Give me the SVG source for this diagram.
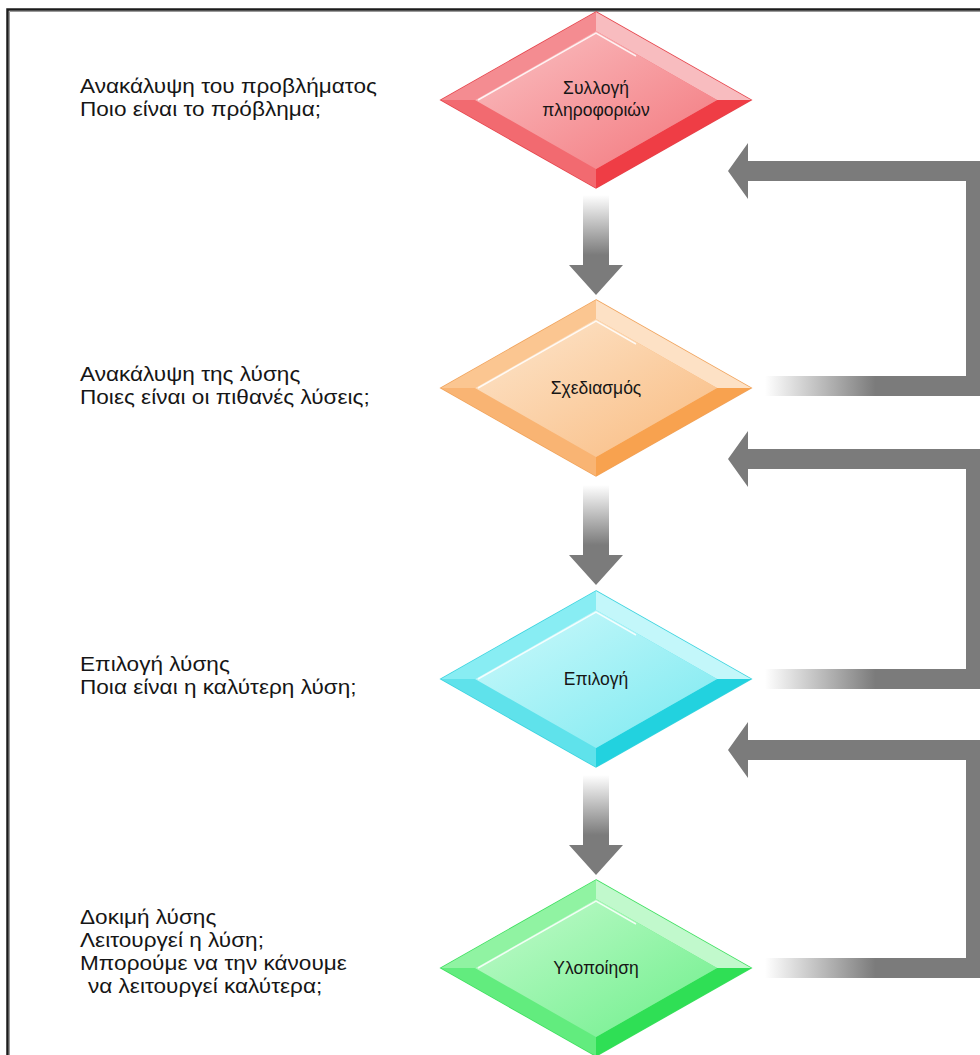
<svg xmlns="http://www.w3.org/2000/svg" xmlns:xlink="http://www.w3.org/1999/xlink" width="980" height="1055" viewBox="0 0 980 1055">
  <defs>
    <style>
      .note { font-family: "Liberation Sans", Arial, sans-serif; font-size: 20px; fill: #161616; }
      .label { font-family: "Liberation Sans", Arial, sans-serif; font-size: 17.5px; fill: #161616; text-anchor: middle; }
      .gray { fill: #7b7b7b; }
      .hl { fill: none; stroke: #ffffff; stroke-width: 1.5; stroke-opacity: 0.85; }
    </style>
    <!-- bevelled diamond facets, local coordinates around the centre -->
    <polygon id="f-tl" points="-155,0 0,-88 0,-69 -121,0"/>
    <polygon id="f-tr" points="0,-88 155,0 121,0 0,-69"/>
    <polygon id="f-br" points="155,0 0,88 0,69 121,0"/>
    <polygon id="f-bl" points="0,88 -155,0 -121,0 0,69"/>
    <polygon id="f-in" points="0,-69 121,0 0,69 -121,0"/>
    <polygon id="f-out" points="0,-88 155,0 0,88 -155,0"/>
    <linearGradient id="g-red" x1="0" y1="0" x2="1" y2="1">
      <stop offset="0" stop-color="#fac1c3"/><stop offset="1" stop-color="#f3767c"/>
    </linearGradient>
    <linearGradient id="g-orange" x1="0" y1="0" x2="1" y2="1">
      <stop offset="0" stop-color="#fde6cd"/><stop offset="1" stop-color="#f9bb80"/>
    </linearGradient>
    <linearGradient id="g-cyan" x1="0" y1="0" x2="1" y2="1">
      <stop offset="0" stop-color="#cdf9fb"/><stop offset="1" stop-color="#7ae9f0"/>
    </linearGradient>
    <linearGradient id="g-green" x1="0" y1="0" x2="1" y2="1">
      <stop offset="0" stop-color="#c2facc"/><stop offset="1" stop-color="#6eef8b"/>
    </linearGradient>
    <!-- shaft fade for the down arrows -->
    <linearGradient id="g-down" x1="0" y1="0" x2="0" y2="1">
      <stop offset="0" stop-color="#ffffff"/><stop offset="0.6" stop-color="#7b7b7b"/><stop offset="1" stop-color="#7b7b7b"/>
    </linearGradient>
    <!-- fade for the return bars leaving each step -->
    <linearGradient id="g-back" x1="0" y1="0" x2="1" y2="0">
      <stop offset="0" stop-color="#ffffff"/><stop offset="0.5" stop-color="#7b7b7b"/><stop offset="1" stop-color="#7b7b7b"/>
    </linearGradient>
  </defs>

  <rect width="980" height="1055" fill="#ffffff"/>
  <!-- frame -->
  <path d="M7.5,1055 V9.5 H980" fill="none" stroke="#1c1c1c" stroke-width="2.5"/>
  <path d="M9.5,1055 V11.5 H980" fill="none" stroke="#9a9a9a" stroke-width="1"/>

  <!-- connectors -->
  <g id="connectors">
    <!-- down arrows between steps -->
    <path d="M583,195 H609 V265 H623 L596,295 L569,265 H583 Z" fill="url(#g-down)"/>
    <path d="M583,485 H609 V555 H623 L596,585 L569,555 H583 Z" fill="url(#g-down)"/>
    <path d="M583,775 H609 V845 H623 L596,875 L569,845 H583 Z" fill="url(#g-down)"/>

    <!-- return loops back to the previous steps -->
    <g id="back-1">
      <rect x="765" y="376" width="221" height="20" fill="url(#g-back)"/>
      <path class="gray" d="M986,396 H966 V181 H748 V199 L728,171 L748,143 V161 H986 Z"/>
    </g>
    <g id="back-2">
      <rect x="765" y="669" width="221" height="20" fill="url(#g-back)"/>
      <path class="gray" d="M986,689 H966 V469 H748 V487 L728,459 L748,431 V449 H986 Z"/>
    </g>
    <g id="back-3">
      <rect x="765" y="958" width="221" height="20" fill="url(#g-back)"/>
      <path class="gray" d="M986,978 H966 V760 H748 V778 L728,750 L748,722 V740 H986 Z"/>
    </g>
  </g>

  <!-- step 1 -->
  <g id="step-collect" transform="translate(596,100)">
    <use xlink:href="#f-out" fill="#f36e74" stroke="#e5444b" stroke-width="1.5"/>
    <use xlink:href="#f-tl" fill="#f48c91"/>
    <use xlink:href="#f-tr" fill="#f8bcbf"/>
    <use xlink:href="#f-br" fill="#ef3d45"/>
    <use xlink:href="#f-bl" fill="#f26a70"/>
    <use xlink:href="#f-in" fill="url(#g-red)"/>
    <polyline class="hl" points="-118,0 0,-67 40,-44"/>
    <text class="label" y="-6">Συλλογή</text>
    <text class="label" y="16">πληροφοριών</text>
  </g>

  <!-- step 2 -->
  <g id="step-design" transform="translate(596,388)">
    <use xlink:href="#f-out" fill="#f9b575" stroke="#f0a35c" stroke-width="1.5"/>
    <use xlink:href="#f-tl" fill="#fbc691"/>
    <use xlink:href="#f-tr" fill="#fde1c5"/>
    <use xlink:href="#f-br" fill="#f8a24f"/>
    <use xlink:href="#f-bl" fill="#f9b473"/>
    <use xlink:href="#f-in" fill="url(#g-orange)"/>
    <polyline class="hl" points="-118,0 0,-67 40,-44"/>
    <text class="label" y="6">Σχεδιασμός</text>
  </g>

  <!-- step 3 -->
  <g id="step-select" transform="translate(596,679)">
    <use xlink:href="#f-out" fill="#5ee2eb" stroke="#3bd3de" stroke-width="1.5"/>
    <use xlink:href="#f-tl" fill="#88edf3"/>
    <use xlink:href="#f-tr" fill="#c3f7fa"/>
    <use xlink:href="#f-br" fill="#22d2df"/>
    <use xlink:href="#f-bl" fill="#5fe2eb"/>
    <use xlink:href="#f-in" fill="url(#g-cyan)"/>
    <polyline class="hl" points="-118,0 0,-67 40,-44"/>
    <text class="label" y="6">Επιλογή</text>
  </g>

  <!-- step 4 -->
  <g id="step-build" transform="translate(596,968)">
    <use xlink:href="#f-out" fill="#62ec7e" stroke="#3cdf5e" stroke-width="1.5"/>
    <use xlink:href="#f-tl" fill="#90f3a2"/>
    <use xlink:href="#f-tr" fill="#c1f9cc"/>
    <use xlink:href="#f-br" fill="#2fdf55"/>
    <use xlink:href="#f-bl" fill="#62ec7e"/>
    <use xlink:href="#f-in" fill="url(#g-green)"/>
    <polyline class="hl" points="-118,0 0,-67 40,-44"/>
    <text class="label" y="6">Υλοποίηση</text>
  </g>

  <!-- notes on the left -->
  <g id="note-1" class="note" transform="translate(80,0) scale(1.13,1)">
    <text x="0" y="93">Ανακάλυψη του προβλήματος</text>
    <text x="0" y="116">Ποιο είναι το πρόβλημα;</text>
  </g>
  <g id="note-2" class="note" transform="translate(80,0) scale(1.13,1)">
    <text x="0" y="381">Ανακάλυψη της λύσης</text>
    <text x="0" y="404">Ποιες είναι οι πιθανές λύσεις;</text>
  </g>
  <g id="note-3" class="note" transform="translate(80,0) scale(1.13,1)">
    <text x="0" y="671">Επιλογή λύσης</text>
    <text x="0" y="694">Ποια είναι η καλύτερη λύση;</text>
  </g>
  <g id="note-4" class="note" transform="translate(80,0) scale(1.13,1)">
    <text x="0" y="924">Δοκιμή λύσης</text>
    <text x="0" y="947">Λειτουργεί η λύση;</text>
    <text x="0" y="970">Μπορούμε να την κάνουμε</text>
    <text x="7" y="993">να λειτουργεί καλύτερα;</text>
  </g>
</svg>
